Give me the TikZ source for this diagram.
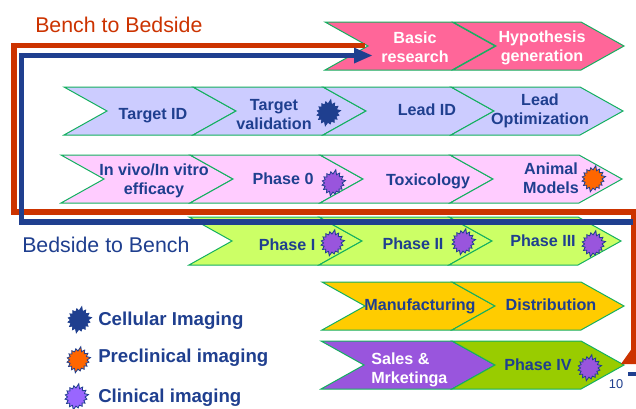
\documentclass[tikz,border=0pt]{standalone}
\usepackage{fontspec}
\setmainfont{Liberation Sans}
\definecolor{txtblue}{HTML}{1F3F8F}
\definecolor{linered}{HTML}{CC3300}
\definecolor{edgegreen}{HTML}{14B060}
\definecolor{fpink}{HTML}{FF6699}
\definecolor{flav}{HTML}{CCCCFF}
\definecolor{flpink}{HTML}{FFCCFF}
\definecolor{flime}{HTML}{CCFF66}
\definecolor{fgold}{HTML}{FFCC00}
\definecolor{fpurple}{HTML}{9955DD}
\definecolor{fgreen}{HTML}{99CC00}
\definecolor{forange}{HTML}{FF6600}
\definecolor{fviolet}{HTML}{9966FF}
\tikzset{
  chevshape/.style={draw=edgegreen,line width=0.75pt,line join=miter},
  lab/.style={inner sep=0pt,align=center,text=txtblue,font=\fontsize{12.1}{14.25}\selectfont\bfseries},
  labw/.style={lab,text=white},
  legendlab/.style={inner sep=0pt,anchor=west,text=txtblue,font=\fontsize{14}{16}\selectfont\bfseries},
  titlelab/.style={inner sep=0pt,anchor=west,font=\fontsize{16}{19}\selectfont},
  redline/.style={draw=linered,line width=4pt,line join=miter},
  blueline/.style={draw=txtblue,line width=4pt,line join=miter},
  burstshape/.style={draw=txtblue,line width=0.6pt,line join=miter}
}
\newcommand{\chev}[4]{%
  \path[chevshape,fill=#3] (#1,#2) -- ++(#4,0) -- ++(43,24) -- ++(-43,24) -- ++(-#4,0) -- ++(43,-24) -- cycle;}
\newcommand{\burst}[4]{%
  \begin{scope}[shift={(#1,#2)}]
  \path[burstshape,fill=#3] (0:6.8pt) -- (11:9.6pt) -- (22:6.8pt) -- (34:9pt) -- (45:6.6pt) -- (56:9pt) -- (67:6.8pt) -- (78:10.2pt) -- (90:6.8pt) -- (101:8.6pt) -- (112:6.6pt) -- (124:8.4pt) -- (135:6.4pt) -- (146:8.2pt) -- (157:6.4pt) -- (169:8.2pt) -- (180:6.4pt) -- (191:8.4pt) -- (202:6.4pt) -- (214:8.6pt) -- (225:6.6pt) -- (236:8.8pt) -- (247:6.8pt) -- (258:9.8pt) -- (270:6.8pt) -- (281:8.4pt) -- (292:6.6pt) -- (304:8.4pt) -- (315:6.4pt) -- (326:8.2pt) -- (337:6.4pt) -- (349:8.4pt) -- cycle;
  \end{scope}
  \coordinate (#4) at (#1,#2);}
\begin{document}
\begin{tikzpicture}[x=0.75pt,y=-0.75pt]
\useasboundingbox (0,0) rectangle (636,408);
\clip (0,0) rectangle (636,408);
\fill[white] (0,0) rectangle (636,408);
% rows of chevrons
\chev{325}{22}{fpink}{127}\chev{453}{22}{fpink}{128}
\chev{64}{87}{flav}{129}\chev{193}{87}{flav}{130}\chev{323}{87}{flav}{128}\chev{451}{87}{flav}{129}
\chev{61}{155}{flpink}{129}\chev{190}{155}{flpink}{130}\chev{320}{155}{flpink}{130}\chev{450}{155}{flpink}{129}
\chev{189}{217}{flime}{130}\chev{319}{217}{flime}{130}\chev{449}{217}{flime}{129}
\chev{322}{282}{fgold}{130}\chev{452}{282}{fgold}{129}
\chev{321}{341}{fpurple}{131}\chev{452}{341}{fgreen}{129}
% labels
\node[labw] (basic) at (415,47.5) {Basic\\research};
\node[labw] (hypo) at (542,47.5) {Hypothesis\\generation};
\node[lab] (tid) at (153,115.5) {Target ID};
\node[lab] (tval) at (274,114.5) {Target\\validation};
\node[lab] (lid) at (427,110) {Lead ID};
\node[lab] (lopt) at (540,110.5) {Lead\\Optimization};
\node[lab] (vivo) at (154,180.5) {In vivo/In vitro\\efficacy};
\node[lab] (ph0) at (283,179) {Phase 0};
\node[lab] (tox) at (428,181) {Toxicology};
\node[lab] (animal) at (551,178.5) {Animal\\Models};
\node[lab] (ph1) at (287,245) {Phase I};
\node[lab] (ph2) at (413,244) {Phase II};
\node[lab] (ph3) at (543,241) {Phase III};
\node[lab] (manu) at (420,306) {Manufacturing};
\node[lab] (dist) at (551,305) {Distribution};
\node[labw,align=left,anchor=west] (sales) at (371,370) {Sales \&\\Mrketinga};
\node[lab] (ph4) at (538,365) {Phase IV};
% bursts
\burst{328}{113}{txtblue}{b1}
\burst{333}{183}{fpurple}{b2}
\burst{593}{179}{forange}{b3}
\burst{332}{243}{fpurple}{b4}
\burst{463}{242}{fpurple}{b5}
\burst{593}{244}{fpurple}{b6}
\burst{589}{368}{fpurple}{b7}
% connectors
\coordinate (rs) at (634,364);
\coordinate (r1) at (634,212);
\coordinate (r2) at (14,212);
\coordinate (r3) at (14,45.5);
\coordinate (re) at (365,45.5);
\coordinate (bs) at (633,222);
\coordinate (b1c) at (21.5,222);
\coordinate (b2c) at (21.5,55.5);
\coordinate (bh) at (355,55.5);
\coordinate (ba) at (372,55.5);
\coordinate (ra) at (621,364);
\draw[redline] (rs) -- (r1) -- (r2) -- (r3) -- (re);
\draw[blueline] (bs) -- (b1c) -- (b2c) -- (bh);
\fill[txtblue] (ba) -- (354,47.5) -- (354,63.5) -- cycle;
\fill[linered] (ra) -- (633,347) -- (636,347) -- (636,364) -- cycle;
\fill[txtblue] (628,372) rectangle (636,376);
% titles
\node[titlelab,text=linered] (bench) at (35,25) {Bench to Bedside};
\node[titlelab,text=txtblue] (bedside) at (22,245) {Bedside to Bench};
% legend
\burst{79}{320}{txtblue}{l1}
\burst{78}{360}{forange}{l2}
\burst{76}{397}{fviolet}{l3}
\node[legendlab] (lc) at (98,320.5) {Cellular Imaging};
\node[legendlab] (lp) at (98,357.5) {Preclinical imaging};
\node[legendlab] (lk) at (98,398) {Clinical imaging};
\node[inner sep=0pt,text=txtblue,font=\fontsize{9.6}{11}\selectfont] (pg) at (616,384.5) {10};
\end{tikzpicture}
\end{document}
